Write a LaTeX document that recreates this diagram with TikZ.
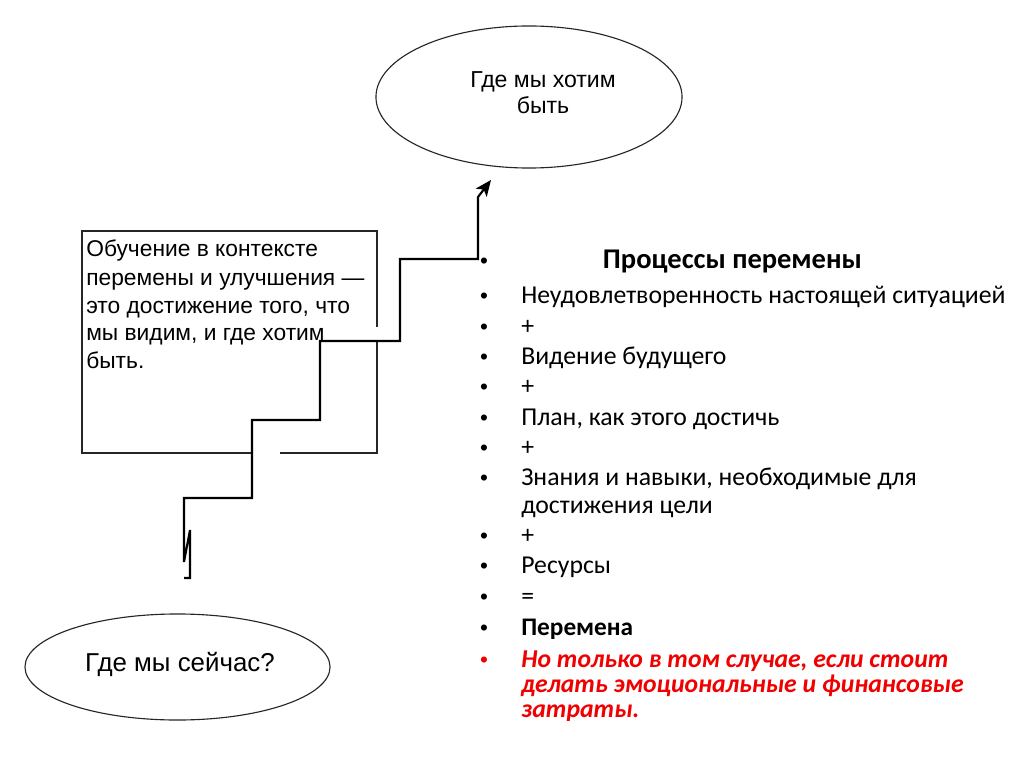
\documentclass[tikz,border=0pt]{standalone}
\usepackage{fontspec}
\setmainfont{Carlito}
\newfontfamily\arial{Liberation Sans}
\usetikzlibrary{arrows.meta,shapes.geometric}
\definecolor{alertred}{RGB}{240,0,0}
\begin{document}
\begin{tikzpicture}[x=0.025cm,y=-0.025cm,
  frame/.style={line width=0.8pt, black!85},
  stair/.style={line width=1.5pt, black},
  oval/.style={ellipse, draw, line width=0.8pt, black!85, inner sep=0pt},
  lefttxt/.style={font=\arial\fontsize{16.2pt}{19.8pt}\selectfont, anchor=base west, inner sep=0pt},
  ovaltxt/.style={font=\arial\fontsize{16.4pt}{19.8pt}\selectfont, anchor=base, inner sep=0pt},
  item/.style={font=\fontsize{18.3pt}{22pt}\selectfont, anchor=base west, inner sep=0pt},
  bul/.style={font=\arial\fontsize{16pt}{18pt}\selectfont, anchor=base, inner sep=0pt}]
\useasboundingbox (0,0) rectangle (1024,767);
\fill[white] (0,0) rectangle (1024,767);

% ellipses
\node[oval, minimum width=7.65cm, minimum height=3.55cm] (goal) at (529,97) {};
\node[ovaltxt] (goalA) at (543,88) {Где мы хотим};
\node[ovaltxt] (goalB) at (543,114) {быть};
\node[oval, minimum width=7.625cm, minimum height=2.65cm] (now) at (177.5,667) {};
\node[ovaltxt, font=\arial\fontsize{18.4pt}{22pt}\selectfont] (nowT) at (180,671) {Где мы сейчас?};

% box
\draw[frame] (252,453) -- (82,453) -- (82,231) -- (377,231) -- (377,327);
\draw[frame] (377,341) -- (377,453) -- (280,453);
\node[lefttxt] (l1) at (86,257) {Обучение в контексте};
\node[lefttxt] (l2) at (86,285) {перемены и улучшения —};
\node[lefttxt] (l3) at (86,313) {это достижение того, что};
\node[lefttxt] (l4) at (86,340) {мы видим, и где хотим};
\node[lefttxt] (l5) at (86,368) {быть.};

% staircase
\coordinate (s0) at (184,578);
\coordinate (s1) at (190,578);
\coordinate (s2) at (190,530);
\coordinate (s3) at (184,562);
\coordinate (s4) at (184,498);
\coordinate (s5) at (252,498);
\coordinate (s6) at (252,420);
\coordinate (s7) at (320,420);
\coordinate (s8) at (320,341);
\coordinate (s9) at (400,341);
\coordinate (s10) at (400,259);
\coordinate (s11) at (478,259);
\coordinate (s12) at (478,197);
\coordinate (s13) at (491,180);
\draw[stair, -{Stealth[length=4mm,width=3.4mm,inset=1mm]}] (s0) -- (s1) -- (s2) -- (s3) -- (s4) -- (s5) -- (s6) -- (s7) -- (s8) -- (s9) -- (s10) -- (s11) -- (s12) -- (s13);

% list
\foreach \y/\n in {268/b1,303/b2,334/b3,364/b4,394/b5,425/b6,455/b7,485/b8,543/b9,573/b10,604/b11,635/b12}
  \node[bul] (\n) at (484,\y) {•};
\node[bul, text=alertred] (b13) at (484,667) {•};

\node[item, font=\bfseries\fontsize{20.3pt}{23pt}\selectfont, anchor=base] (t0) at (732.5,268) {Процессы перемены};
\node[item] (t1) at (521,303) {Неудовлетворенность настоящей ситуацией};
\node[item] (t2) at (521,334) {+};
\node[item] (t3) at (521,364) {Видение будущего};
\node[item] (t4) at (521,394) {+};
\node[item] (t5) at (521,425) {План, как этого достичь};
\node[item] (t6) at (521,455) {+};
\node[item] (t7) at (521,485) {Знания и навыки, необходимые для};
\node[item] (t7b) at (521,513) {достижения цели};
\node[item] (t8) at (521,543) {+};
\node[item] (t9) at (521,573) {Ресурсы};
\node[item] (t10) at (521,604) {=};
\node[item, font=\bfseries\fontsize{18pt}{22pt}\selectfont] (t11) at (521,635) {Перемена};
\node[item, text=alertred, font=\bfseries\itshape\fontsize{18.3pt}{22pt}\selectfont] (t12) at (521,667) {Но только в том случае, если стоит};
\node[item, text=alertred, font=\bfseries\itshape\fontsize{18.3pt}{22pt}\selectfont] (t12b) at (521,692) {делать эмоциональные и финансовые};
\node[item, text=alertred, font=\bfseries\itshape\fontsize{18.3pt}{22pt}\selectfont] (t12c) at (521,717) {затраты.};
\end{tikzpicture}
\end{document}
